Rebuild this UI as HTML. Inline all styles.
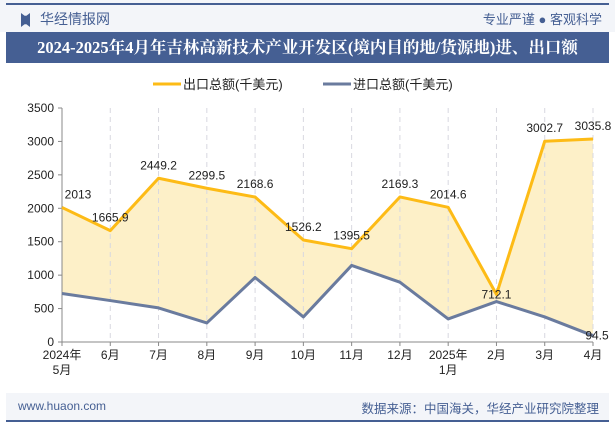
<!DOCTYPE html>
<html><head><meta charset="utf-8"><style>
body{margin:0;width:615px;height:427px;overflow:hidden;background:#fff;font-family:"Liberation Sans","Noto Sans CJK SC",sans-serif;}
.hdr{position:absolute;left:0;top:0;width:615px;height:32px;background:#f3f5f9;}
.title{position:absolute;left:6px;top:32px;width:603px;height:31px;background:#455f93;color:#fff;font-weight:bold;font-size:16.5px;line-height:31px;text-align:center;font-family:"Liberation Serif","Noto Serif CJK SC",serif;white-space:nowrap;}
.ftr{position:absolute;left:6px;top:393px;width:603px;height:28px;background:#f3f5f9;}
</style></head><body>
<div class="hdr">
<div style="position:absolute;left:6px;top:3px;width:603px;height:2px;background:#455f93"></div>
<div style="position:absolute;left:21px;top:13px;width:9px;height:14px;background:#455f93;clip-path:polygon(0 0,40% 20%,60% 20%,100% 0,100% 100%,60% 80%,40% 80%,0 100%)"></div>
<div style="position:absolute;left:40px;top:9px;font-size:14px;color:#455f93">华经情报网</div>
<div style="position:absolute;right:13px;top:9px;font-size:13px;color:#455f93">专业严谨 ● 客观科学</div>
</div>
<div class="title">2024-2025年4月年吉林高新技术产业开发区(境内目的地/货源地)进、出口额</div>
<svg id="c" width="615" height="427" style="position:absolute;left:0;top:0"></svg>
<div class="ftr">
<div style="position:absolute;left:12px;top:6px;font-size:12px;color:#455f93">www.huaon.com</div>
<div style="position:absolute;right:10px;top:5px;font-size:12.5px;color:#455f93">数据来源：中国海关，华经产业研究院整理</div>
<div style="position:absolute;left:0;top:27px;width:603px;height:2px;background:#455f93"></div>
</div>
<script>
const categories=["2024年\n5月","6月","7月","8月","9月","10月","11月","12月","2025年\n1月","2月","3月","4月"];
const exportVals=[2013,1665.9,2449.2,2299.5,2168.6,1526.2,1395.5,2169.3,2014.6,712.1,3002.7,3035.8];
const importVals=[725,620,510,285,965,375,1145,895,345,605,375,94.5];
const yTicks=[0,500,1000,1500,2000,2500,3000,3500];
const NS="http://www.w3.org/2000/svg";
const svg=document.getElementById('c');
const x0=62,x1=593,y0=342,yTop=108,ymax=3500;
const X=i=>x0+i*(x1-x0)/(categories.length-1);
const Y=v=>y0-v/ymax*(y0-yTop);
function mk(t,a,p){const e=document.createElementNS(NS,t);for(const k in a)e.setAttribute(k,a[k]);(p||svg).appendChild(e);return e;}
// fill between
let pts=exportVals.map((v,i)=>X(i)+','+Y(v)).concat(importVals.map((v,i)=>[i,v]).reverse().map(([i,v])=>X(i)+','+Y(v)));
const area=mk('polygon',{points:pts.join(' '),fill:'#fdf0c8'});


categories.forEach((c,i)=>{if(i>0){const g=mk('line',{x1:X(i),x2:X(i),y1:yTop,y2:y0,stroke:'#d8d8e0','stroke-dasharray':'5,4'});

}});
mk('line',{x1:x0,x2:x0,y1:yTop,y2:y0,stroke:'#888'});
mk('line',{x1:x0,x2:x1,y1:y0,y2:y0,stroke:'#888'});
yTicks.forEach(v=>{mk('line',{x1:x0-4,x2:x0,y1:Y(v),y2:Y(v),stroke:'#888'});
const t=mk('text',{x:x0-8,y:Y(v)+4,'text-anchor':'end','font-size':12,fill:'#222'});t.textContent=v;

});
categories.forEach((c,i)=>{mk('line',{x1:X(i),x2:X(i),y1:y0,y2:y0+4,stroke:'#888'});
c.split('\n').forEach((s,j)=>{const t=mk('text',{x:X(i),y:y0+17+j*15,'text-anchor':'middle','font-size':12,fill:'#222'});t.textContent=s;

});});
function line(vals,col,name){const p=mk('polyline',{points:vals.map((v,i)=>X(i)+','+Y(v)).join(' '),fill:'none',stroke:col,'stroke-width':3,'stroke-linejoin':'round'});

}
line(importVals,'#6a7b9e','import-line');
line(exportVals,'#fdbb16','export-line');
exportVals.forEach((v,i)=>{const t=mk('text',{x:X(i)+(i==0?16:0),y:Y(v)-(i==9?-4:9),'text-anchor':'middle','font-size':12,fill:'#222'});t.textContent=v;

});
const lt=mk('text',{x:X(11)+4,y:Y(importVals[11])+4,'text-anchor':'middle','font-size':12,fill:'#222'});lt.textContent=importVals[11];


// legend
mk('line',{x1:153,x2:181,y1:84,y2:84,stroke:'#fdbb16','stroke-width':3});
let t=mk('text',{x:183,y:89,'font-size':13,fill:'#222'});t.textContent='出口总额(千美元)';


mk('line',{x1:323,x2:351,y1:84,y2:84,stroke:'#6a7b9e','stroke-width':3});
t=mk('text',{x:353,y:89,'font-size':13,fill:'#222'});t.textContent='进口总额(千美元)';


</script>
</body></html>
